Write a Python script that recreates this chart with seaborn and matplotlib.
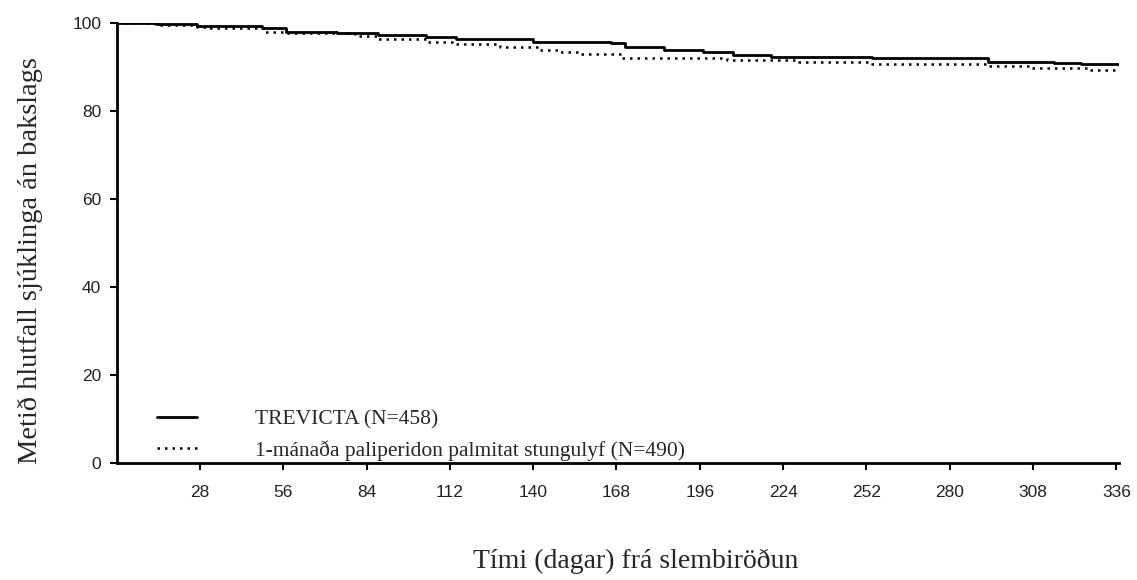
import matplotlib
matplotlib.use('Agg')
import matplotlib.pyplot as plt
import pandas as pd
import seaborn as sns

# Kaplan-Meier curves (days, % without relapse)
trevicta_days = [0, 13.5, 27, 49, 57, 74, 88, 104, 114, 140, 166, 171, 184, 197, 207, 220, 254, 293, 315, 324, 337]
trevicta_pct = [100, 99.8, 99.3, 98.8, 97.9, 97.7, 97.4, 96.9, 96.4, 95.8, 95.4, 94.6, 94.0, 93.5, 92.7, 92.3, 92.0, 91.2, 90.9, 90.7, 90.7]

pp1m_days = [0, 13, 27, 30, 50, 57, 80, 88, 96, 104, 114, 129, 142, 149, 156, 170, 205, 228, 254, 293, 307, 327, 337]
pp1m_pct = [100, 99.7, 99.2, 98.8, 98.0, 97.8, 97.0, 96.5, 96.3, 95.8, 95.2, 94.6, 93.9, 93.5, 92.9, 92.0, 91.6, 91.2, 90.7, 90.2, 89.8, 89.3, 89.3]

x_ticks = [28, 56, 84, 112, 140, 168, 196, 224, 252, 280, 308, 336]
y_ticks = [0, 20, 40, 60, 80, 100]

label_trevicta = 'TREVICTA (N=458)'
label_pp1m = '1-mánaða paliperidon palmitat stungulyf (N=490)'
x_title = 'Tími (dagar) frá slembiröðun'
y_title = 'Metið hlutfall sjúklinga án bakslags'

df_t = pd.DataFrame({'dagar': trevicta_days, 'hlutfall': trevicta_pct})
df_p = pd.DataFrame({'dagar': pp1m_days, 'hlutfall': pp1m_pct})

sns.set_style('white')
plt.rcParams['font.family'] = ['Liberation Sans', 'DejaVu Sans']
serif = ['Liberation Serif', 'DejaVu Serif']

fig = plt.figure(figsize=(11.37, 5.8), dpi=100)
ax = fig.add_axes([0.1025, 0.202, 0.882, 0.758])

# solid = TREVICTA, dotted = 1-month paliperidone palmitate
sns.lineplot(data=df_t, x='dagar', y='hlutfall', ax=ax, color='black', linewidth=2.0,
             drawstyle='steps-post', estimator=None, sort=False, label=label_trevicta)
sns.lineplot(data=df_p, x='dagar', y='hlutfall', ax=ax, color='black', linewidth=1.8,
             linestyle=(0, (1, 2)), drawstyle='steps-post', estimator=None, sort=False,
             label=label_pp1m)

ax.set_xlim(0, 337)
ax.set_ylim(0, 100)
ax.set_xticks(x_ticks)
ax.set_yticks(y_ticks)
ax.tick_params(axis='both', direction='out', length=5, width=1.5, color='black',
               labelsize=12.5, labelcolor='#222222', left=True, bottom=True)
ax.tick_params(axis='x', pad=11)
ax.tick_params(axis='y', pad=6)

for side in ['top', 'right']:
    ax.spines[side].set_visible(False)
for side in ['left', 'bottom']:
    ax.spines[side].set_color('black')
    ax.spines[side].set_linewidth(2)

ax.set_xlabel('')
ax.set_ylabel('')
fig.text(0.559, 0.032, x_title, ha='center', va='center', fontsize=20, family=serif)
fig.text(0.027, 0.55, y_title, ha='center', va='center', rotation=90, fontsize=20.5,
         family=serif)

ax.legend(loc='lower left', bbox_to_anchor=(0.025, -0.029), frameon=False,
          borderpad=0.2, handlelength=1.85, handletextpad=2.7, labelspacing=0.49,
          prop={'family': serif, 'size': 15.5})

fig.savefig('out.png', dpi=100)
